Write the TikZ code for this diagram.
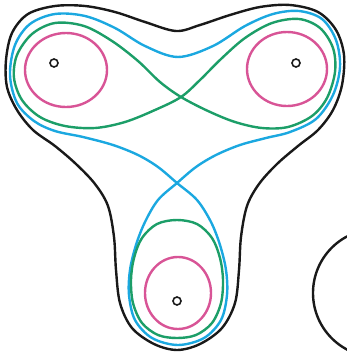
\documentclass[tikz,border=0pt]{standalone}
\begin{document}
\begin{tikzpicture}[x=1pt,y=-1pt,
  outer/.style={draw=black!90,line width=2.4pt},
  bluec/.style={draw={rgb,255:red,27;green,168;blue,224},line width=2.4pt},
  greenc/.style={draw={rgb,255:red,28;green,158;blue,104},line width=2.4pt},
  pinkc/.style={draw={rgb,255:red,216;green,84;blue,150},line width=2.4pt},
  pole/.style={draw=black!90,line width=1.6pt,circle,minimum size=8pt,inner sep=0pt}]
\useasboundingbox (0,0) rectangle (346,354);
% outer black curve
\draw[outer] plot[smooth cycle,tension=0.55] coordinates {
 (176,31) (200,25) (230,15) (260,7) (290,5) (318,12) (336,30) (344,55) (342,85)
 (333,110) (318,130) (298,146) (277,164) (259,184) (247,206) (241,237) (239,270)
 (235,303) (222,328) (200,344) (177,350) (154,344) (132,328) (120,303) (116,270)
 (114,237) (108,206) (95,184) (76,164) (55,146) (33,130) (17,110) (7,87) (6,60)
 (12,33) (28,14) (55,6) (85,6) (115,12) (145,22)};
% blue curve
\draw[bluec] plot[smooth cycle,tension=0.55] coordinates {
 (178,57) (213,46) (245,26) (273,14) (299,11) (322,19) (336,40) (340,67) (333,95)
 (316,119) (290,132) (266,138) (240,145) (216,155) (196,167) (177,183) (158,200)
 (145,222) (136,245) (130,270) (129,295) (135,320) (152,338) (178,345) (204,338)
 (221,320) (227,295) (226,270) (220,245) (211,222) (197,200) (177,183) (158,167)
 (138,155) (113,145) (83,137) (55,131) (34,121) (17,103) (10,75) (15,45) (30,24)
 (55,14) (85,16) (115,28) (145,46)};
% green figure eight
\draw[greenc] plot[smooth cycle,tension=0.55] coordinates {
 (181,97) (200,80) (221,59) (245,38) (272,23) (299,19) (320,28) (333,48) (335,72)
 (327,98) (312,116) (288,127) (262,128) (235,122) (208,111) (181,97) (160,82)
 (138,61) (112,41) (84,26) (55,23) (32,34) (17,55) (14,78) (22,100) (40,117)
 (65,126) (95,128) (125,122) (155,110)};
% green bottom loop
\draw[greenc] plot[smooth cycle,tension=0.55] coordinates {
 (177,220) (197,224) (212,238) (220,258) (223,280) (221,303) (212,323) (196,335)
 (177,338) (158,335) (142,323) (133,303) (131,280) (134,258) (142,238) (157,224)};
% pink loops
\draw[pinkc] (66,70) ellipse [x radius=41,y radius=37];
\draw[pinkc] (287,69) ellipse [x radius=40,y radius=37];
\draw[pinkc] (178,293) ellipse [x radius=33,y radius=36];
% poles
\node[pole] (p1) at (54,63) {};
\node[pole] (p2) at (296,63) {};
\node[pole] (p3) at (177,301) {};
% partial circle at right
\draw[outer] (377,293) circle [radius=64];
\end{tikzpicture}
\end{document}
